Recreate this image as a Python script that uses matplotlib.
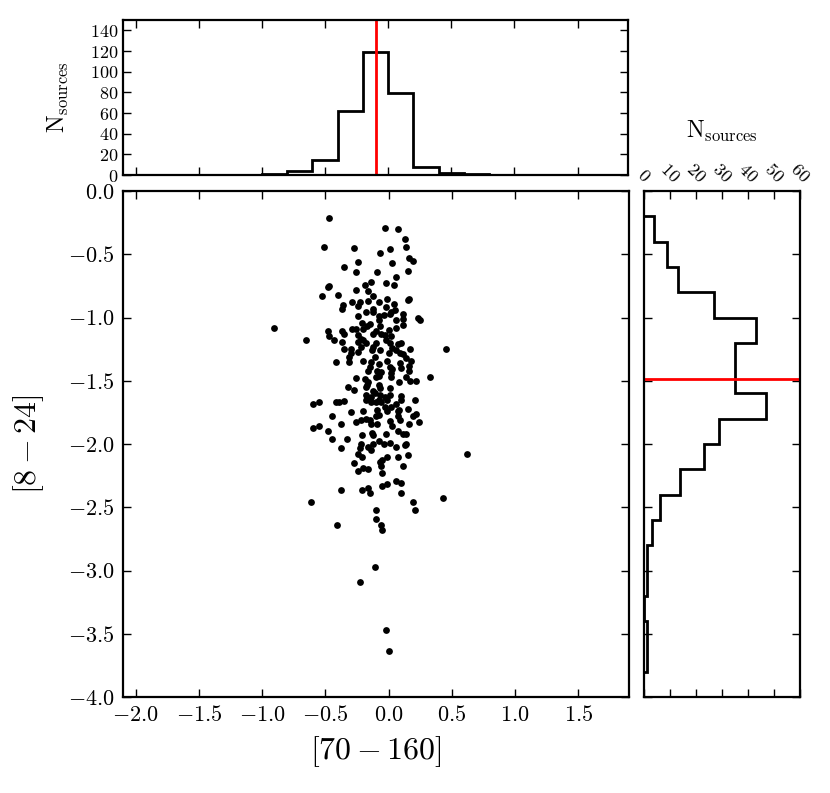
import numpy as np
import matplotlib
matplotlib.use('Agg')
import matplotlib.pyplot as plt
from matplotlib.ticker import MultipleLocator, NullFormatter

plt.rcParams['font.family'] = 'serif'
plt.rcParams['font.serif'] = ['cmr10']
plt.rcParams['mathtext.fontset'] = 'cm'
plt.rcParams['axes.formatter.use_mathtext'] = True

# colours [70-160] vs [8-24], one entry per source
c70_160 = [
    -0.47, -0.03, 0.07, 0.13, -0.51, -0.27, 0.14, -0.07, 0.01, 0.16, 0.19, -0.24, 0.03, -0.35, -0.26, -0.09,
    0.15, 0.06, -0.14, -0.19, -0.02, 0.04, -0.47, -0.48, -0.26, -0.16, -0.40, -0.12, -0.53, -0.01, 0.16,
    -0.36, -0.37, -0.29, -0.23, -0.24, -0.16, -0.12, -0.08, -0.02, 0.04, 0.05, 0.02, 0.15,
    -0.24, -0.18, -0.12, -0.08, -0.04, 0.01, 0.11, 0.11, 0.23, 0.25, 0.06, -0.08, -0.21, -0.15,
    -0.29, -0.26, -0.20, -0.17, -0.12, -0.07, -0.06, 0.00, 0.02, 0.06, 0.11, -0.48, -0.47, -0.37, -0.35, -0.24,
    -0.22, -0.10, -0.03,
    -0.65, -0.43, -0.37, -0.24, -0.20, -0.18, -0.10, -0.12, -0.02, 0.01, 0.03, 0.07, 0.10, 0.45, 0.17, -0.22,
    -0.30, -0.35,
    -0.30, -0.24, -0.13, -0.07, 0.00, 0.06, 0.09, 0.11, 0.14, -0.42, -0.31, -0.31, -0.20, -0.14, -0.11, -0.08,
    -0.01, 0.09, 0.18,
    -0.16, -0.15, -0.09, -0.06, 0.01, 0.03, 0.10, 0.16, 0.16, 0.02,
    -0.26, -0.19, -0.16, -0.10, -0.08, 0.02, 0.08, 0.14, 0.17, 0.22, 0.33,
    -0.32, -0.27, -0.18, -0.17, -0.08, -0.07, -0.12, 0.01,
    -0.18, -0.14, -0.11, -0.07, -0.03, -0.01, 0.01, 0.10, 0.10, -0.06, -0.10, -0.08, -0.18, -0.14,
    -0.60, -0.55, -0.42, -0.39, -0.35, 0.21, 0.06,
    -0.30, -0.20, -0.09, -0.08, -0.03, -0.01, 0.02, 0.07, 0.08, 0.15, -0.45, -0.26, -0.22, -0.18, -0.15, -0.10,
    -0.09, -0.14, 0.01, 0.07, 0.09, 0.19, 0.22, 0.24, 0.16, -0.38,
    -0.60, -0.55, -0.48, -0.45, -0.33, -0.21, -0.13, -0.12, -0.02, 0.03, 0.07, 0.11, 0.14,
    -0.22, -0.12, -0.08, -0.04, 0.01, 0.14,
    -0.16, -0.38, -0.23, 0.06, 0.13,
    -0.24, -0.21, -0.14, -0.01, 0.07, 0.15, 0.62,
    -0.27, -0.07, -0.05, -0.06, 0.11,
    -0.24, -0.20, -0.16, -0.05,
    -0.38, -0.21, -0.16, -0.15, -0.05, -0.01, 0.06, 0.10, 0.10,
    -0.61, -0.10, 0.19, 0.21, 0.43,
    -0.41, -0.10, -0.06, -0.05, -0.11, -0.23, -0.02, 0.00,
    -0.91,
]
c8_24 = [
    -0.21, -0.29, -0.30, -0.38, -0.44, -0.45, -0.44, -0.49, -0.46, -0.53, -0.55, -0.56, -0.57, -0.60, -0.64, -0.64,
    -0.63, -0.68, -0.72, -0.74, -0.73, -0.74, -0.75, -0.76, -0.78, -0.79, -0.82, -0.83, -0.83, -0.85, -0.85,
    -0.90, -0.93, -0.88, -0.88, -0.91, -0.87, -0.93, -0.88, -0.92, -0.89, -0.94, -0.96, -0.86,
    -0.99, -0.96, -0.96, -0.99, -0.98, -0.97, -0.97, -1.01, -1.00, -1.02, -1.02, -1.02, -1.04, -1.05,
    -1.09, -1.09, -1.09, -1.07, -1.13, -1.07, -1.13, -1.10, -1.15, -1.08, -1.06, -1.11, -1.15, -1.11, -1.13, -1.14,
    -1.17, -1.11, -1.14,
    -1.18, -1.18, -1.19, -1.19, -1.18, -1.20, -1.20, -1.23, -1.18, -1.20, -1.24, -1.21, -1.20, -1.25, -1.25, -1.23,
    -1.25, -1.25,
    -1.28, -1.27, -1.26, -1.26, -1.28, -1.26, -1.28, -1.29, -1.32, -1.35, -1.35, -1.31, -1.34, -1.35, -1.31, -1.37,
    -1.34, -1.36, -1.34,
    -1.42, -1.39, -1.42, -1.43, -1.39, -1.41, -1.40, -1.38, -1.42, -1.44,
    -1.48, -1.49, -1.51, -1.47, -1.46, -1.47, -1.51, -1.47, -1.50, -1.50, -1.47,
    -1.55, -1.57, -1.55, -1.53, -1.53, -1.56, -1.58, -1.56,
    -1.61, -1.63, -1.60, -1.61, -1.63, -1.65, -1.61, -1.62, -1.65, -1.67, -1.67, -1.65, -1.65, -1.67,
    -1.68, -1.67, -1.67, -1.67, -1.66, -1.65, -1.68,
    -1.75, -1.74, -1.73, -1.77, -1.71, -1.74, -1.71, -1.74, -1.73, -1.72, -1.78, -1.83, -1.81, -1.80, -1.81, -1.78,
    -1.84, -1.84, -1.82, -1.78, -1.81, -1.78, -1.76, -1.83, -1.84, -1.84,
    -1.87, -1.86, -1.90, -1.96, -1.96, -1.93, -1.91, -1.93, -1.92, -1.86, -1.90, -1.92, -1.92,
    -2.00, -2.00, -1.98, -2.00, -1.99, -2.00,
    -2.02, -2.03, -2.03, -2.02, -2.01,
    -2.08, -2.10, -2.05, -2.10, -2.10, -2.09, -2.08,
    -2.15, -2.14, -2.13, -2.17, -2.17,
    -2.21, -2.19, -2.20, -2.23,
    -2.36, -2.36, -2.35, -2.39, -2.33, -2.32, -2.29, -2.31, -2.39,
    -2.46, -2.52, -2.46, -2.52, -2.43,
    -2.64, -2.59, -2.64, -2.68, -2.97, -3.09, -3.47, -3.64,
    -1.08,
]

# marginal histograms (bin width 0.2)
top_edges = [-1.0, -0.8, -0.6, -0.4, -0.2, 0.0, 0.2, 0.4, 0.6, 0.8]
top_counts = [1, 4, 15, 62, 119, 79, 8, 2, 1]
right_edges = [-3.8, -3.6, -3.4, -3.2, -3.0, -2.8, -2.6, -2.4, -2.2, -2.0,
               -1.8, -1.6, -1.4, -1.2, -1.0, -0.8, -0.6, -0.4, -0.2]
right_counts = [1, 1, 0, 1, 1, 3, 6, 14, 23, 29, 47, 35, 35, 43, 27, 13, 9, 4]
median_x = -0.10
median_y = -1.485

fig = plt.figure(figsize=(8.3, 7.93), dpi=100)
ax = fig.add_axes([123/830, 96/793, 506/830, 506/793])
ax_top = fig.add_axes([123/830, 618/793, 505/830, 155/793])
ax_right = fig.add_axes([644/830, 96/793, 156/830, 506/793])

for a in (ax, ax_top, ax_right):
    for s in a.spines.values():
        s.set_linewidth(1.6)
    a.tick_params(which='major', direction='in', top=True, right=True,
                  length=6, width=1)

# main scatter
ax.scatter(c70_160, c8_24, s=24, color='k', linewidths=0, zorder=3)
ax.set_xlim(-2.1, 1.9)
ax.set_ylim(-4.0, 0.0)
ax.xaxis.set_major_locator(MultipleLocator(0.5))
ax.yaxis.set_major_locator(MultipleLocator(0.5))
ax.tick_params(labelsize=16, pad=6)
ax.set_xlabel(r'$[70-160]$', fontsize=23, labelpad=6)
ax.set_ylabel(r'$[8-24]$', fontsize=23, labelpad=16)

# top histogram
ax_top.stairs(top_counts, top_edges, color='k', linewidth=2, baseline=0)
ax_top.axvline(median_x, color='red', linewidth=2)
ax_top.set_xlim(-2.1, 1.9)
ax_top.set_ylim(0, 150)
ax_top.xaxis.set_major_locator(MultipleLocator(0.5))
ax_top.xaxis.set_major_formatter(NullFormatter())
ax_top.yaxis.set_major_locator(MultipleLocator(20))
ax_top.tick_params(labelsize=13, pad=3)
ax_top.set_ylabel(r'$\mathrm{N_{sources}}$', fontsize=17, labelpad=14)

# right histogram
ax_right.stairs(right_counts, right_edges, color='k', linewidth=2,
                baseline=0, orientation='horizontal')
ax_right.axhline(median_y, color='red', linewidth=2)
ax_right.set_xlim(0, 60)
ax_right.set_ylim(-4.0, 0.0)
ax_right.xaxis.set_major_locator(MultipleLocator(10))
ax_right.yaxis.set_major_locator(MultipleLocator(0.5))
ax_right.yaxis.set_major_formatter(NullFormatter())
ax_right.tick_params(axis='x', labeltop=True, labelbottom=False, labelsize=13, pad=4)
plt.setp(ax_right.get_xticklabels(), rotation=-45)
ax_right.xaxis.set_label_position('top')
ax_right.set_xlabel(r'$\mathrm{N_{sources}}$', fontsize=17, labelpad=16)

fig.savefig('out.png', dpi=100)
